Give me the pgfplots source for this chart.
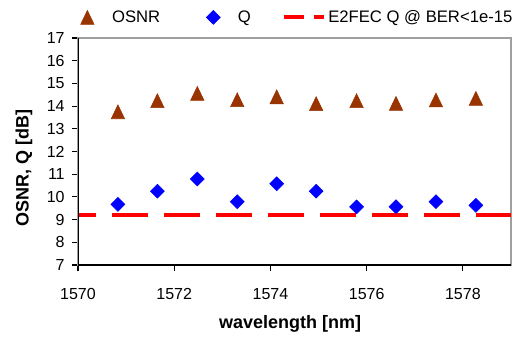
\documentclass[border=0pt]{standalone}
\usepackage{pgfplots}
\pgfplotsset{compat=1.18}
\usepackage{fontspec}
\setmainfont{Liberation Sans}
\definecolor{osnrbrown}{RGB}{153,51,0}
\definecolor{qblue}{RGB}{0,0,255}
\definecolor{fecred}{RGB}{255,0,0}
\pgfplotsset{
  marklegend/.style={legend image code/.code={\path[draw=none] (0,0) -- (0.82cm,0); \draw[##1, draw=none, only marks] plot coordinates {(0.24cm,0cm)};}},
  linelegend/.style={legend image code/.code={\draw[##1, line width=3pt, dash pattern=on 15pt off 7.5pt, dash phase=0pt] (0,0) -- (30pt,0);}},
}
\begin{document}
\begin{tikzpicture}
\begin{axis}[
  scale only axis,
  width=324.75pt, height=170.25pt,
  xmin=1570, xmax=1579, ymin=7, ymax=17,
  xtick={1570,1572,1574,1576,1578},
  ytick={7,8,...,17},
  tick align=outside,
  major tick length=4.5pt,
  xtick pos=bottom, ytick pos=left,
  tick style={black, line width=0.8pt},
  axis line style={draw=gray!75, line width=0.8pt},
  /pgf/number format/assume math mode=true,
  /pgf/number format/1000 sep={},
  tick label style={font=\fontsize{12}{14}\selectfont},
  xticklabel style={anchor=center, yshift=-17.6pt},
  yticklabel style={anchor=east, xshift=-2pt},
  xlabel={\textbf{wavelength [nm]}},
  ylabel={\textbf{OSNR, Q [dB]}},
  label style={font=\fontsize{13.5}{16}\selectfont},
  xlabel style={at={(rel axis cs:0.49,-0.26)}, anchor=center},
  ylabel style={at={(rel axis cs:-0.125,0.427)}, anchor=center},
  legend columns=3,
  legend style={draw=none, fill=none, at={(rel axis cs:0,1)}, anchor=south west,
    yshift=6pt, xshift=-3pt,
    font=\fontsize{12.5}{15}\selectfont,
    /tikz/column 2/.style={column sep=31pt},
    /tikz/column 4/.style={column sep=21pt}},
  legend cell align=left,
]
\addplot[only marks, mark=triangle*, mark size=5.8pt, color=osnrbrown,
  mark options={yscale=1.2, yshift=-1.45pt}, marklegend]
  coordinates {
  (1570.83,13.75) (1571.65,14.24) (1572.48,14.56) (1573.31,14.28) (1574.13,14.41)
  (1574.95,14.11) (1575.79,14.24) (1576.61,14.12) (1577.44,14.27) (1578.27,14.34)
  };
\addlegendentry{OSNR}
\addplot[only marks, mark=square*, mark size=3.7pt, color=qblue,
  mark options={rotate=45}, marklegend]
  coordinates {
  (1570.83,9.67) (1571.65,10.25) (1572.48,10.79) (1573.31,9.79) (1574.13,10.58)
  (1574.95,10.25) (1575.79,9.56) (1576.61,9.57) (1577.44,9.79) (1578.27,9.63)
  };
\addlegendentry{Q}
\addplot[color=fecred, line width=3pt, dash pattern=on 27pt off 12pt, dash phase=13.5pt, linelegend]
  coordinates {(1570,9.2) (1579,9.2)};
\addlegendentry{E2FEC Q @ BER<1e-15}
\draw[black, line width=1pt] (rel axis cs:0,1) -- (rel axis cs:0,0) -- (rel axis cs:1,0);
\end{axis}
\pgfresetboundingbox
\path[use as bounding box] ([xshift=-58.5pt,yshift=-53.25pt]current axis.south west) rectangle ([xshift=9.75pt,yshift=28.5pt]current axis.north east);
\end{tikzpicture}
\end{document}
